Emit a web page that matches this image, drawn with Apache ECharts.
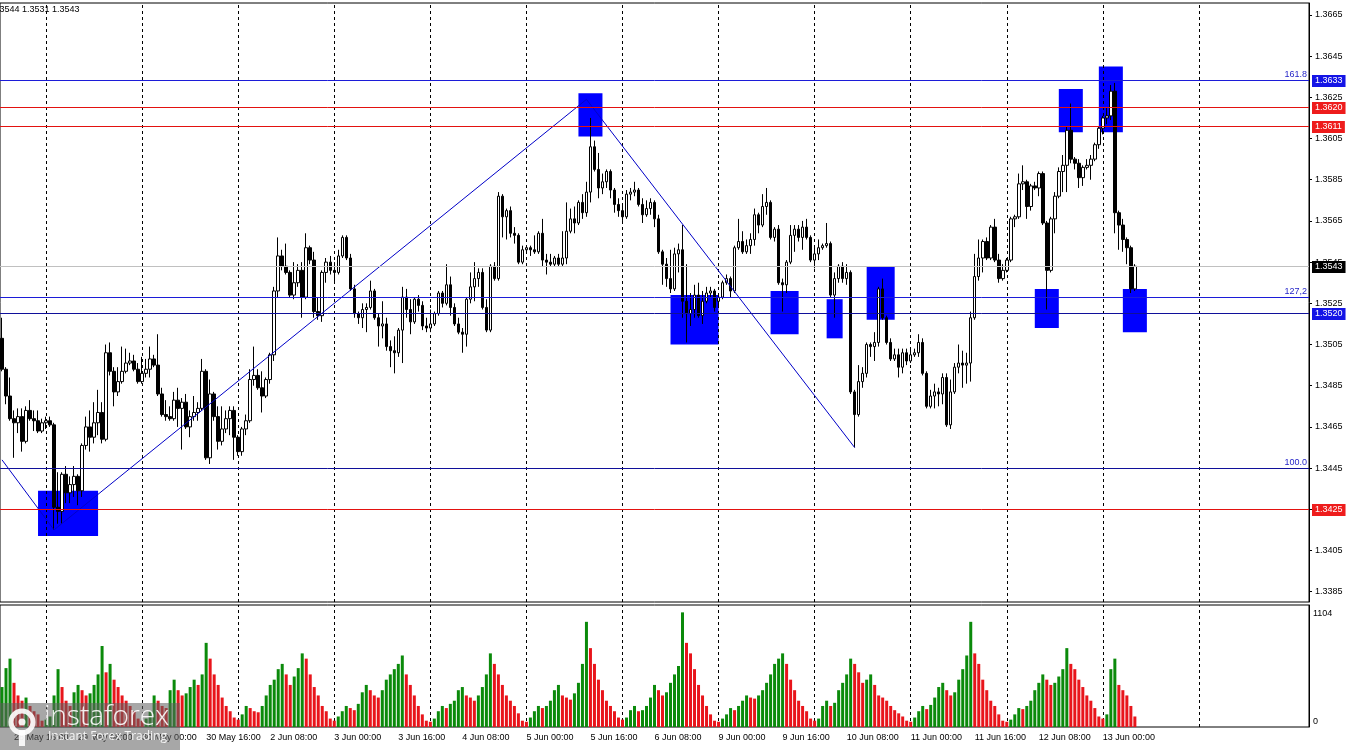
<!DOCTYPE html>
<html><head><meta charset="utf-8">
<script src="https://cdn.jsdelivr.net/npm/echarts/dist/echarts.min.js"></script>
<style>html,body{margin:0;padding:0;background:#fff}#c{width:1350px;height:750px}</style>
</head><body><div id="c"></div>
<script>
// ---- DATA ----
// hourly bars: [open, close, low, high]
const ohlc = [
[1.3508,1.3493,1.3492,1.3518],[1.3493,1.3480,1.3476,1.3494],[1.3480,1.3469,1.3468,1.3489],[1.3469,1.3467,1.3450,1.3473],
[1.3467,1.3470,1.3462,1.3474],[1.3470,1.3458,1.3453,1.3474],[1.3458,1.3473,1.3457,1.3475],[1.3473,1.3469,1.3468,1.3478],
[1.3469,1.3468,1.3463,1.3473],[1.3468,1.3463,1.3462,1.3473],[1.3463,1.3467,1.3462,1.3469],[1.3467,1.3468,1.3464,1.3470],
[1.3468,1.3466,1.3465,1.3470],[1.3466,1.3426,1.3415,1.3467],[1.3426,1.3424,1.3418,1.3443],[1.3424,1.3442,1.3418,1.3443],
[1.3442,1.3433,1.3428,1.3446],[1.3433,1.3437,1.3428,1.3441],[1.3437,1.3441,1.3431,1.3446],[1.3441,1.3434,1.3427,1.3442],
[1.3434,1.3456,1.3431,1.3457],[1.3456,1.3465,1.3454,1.3470],[1.3465,1.3460,1.3453,1.3473],[1.3460,1.3467,1.3457,1.3477],
[1.3467,1.3472,1.3461,1.3483],[1.3472,1.3459,1.3457,1.3477],[1.3459,1.3501,1.3458,1.3505],[1.3501,1.3492,1.3490,1.3506],
[1.3492,1.3482,1.3475,1.3494],[1.3482,1.3487,1.3480,1.3494],[1.3487,1.3492,1.3486,1.3504],[1.3492,1.3496,1.3491,1.3503],
[1.3496,1.3497,1.3495,1.3501],[1.3497,1.3493,1.3492,1.3500],[1.3493,1.3487,1.3486,1.3496],[1.3487,1.3491,1.3486,1.3499],
[1.3491,1.3493,1.3489,1.3498],[1.3493,1.3498,1.3489,1.3504],[1.3498,1.3495,1.3494,1.3500],[1.3495,1.3481,1.3480,1.3510],
[1.3481,1.3471,1.3470,1.3484],[1.3471,1.3470,1.3468,1.3478],[1.3470,1.3469,1.3468,1.3475],[1.3469,1.3478,1.3468,1.3482],
[1.3478,1.3474,1.3465,1.3484],[1.3474,1.3477,1.3454,1.3479],[1.3477,1.3465,1.3464,1.3481],[1.3465,1.3470,1.3460,1.3473],
[1.3470,1.3472,1.3468,1.3480],[1.3472,1.3474,1.3468,1.3477],[1.3474,1.3492,1.3473,1.3498],[1.3492,1.3450,1.3449,1.3493],
[1.3450,1.3481,1.3447,1.3488],[1.3481,1.3470,1.3468,1.3482],[1.3470,1.3458,1.3454,1.3475],[1.3458,1.3464,1.3456,1.3475],
[1.3464,1.3469,1.3462,1.3473],[1.3469,1.3473,1.3461,1.3475],[1.3473,1.3460,1.3449,1.3475],[1.3460,1.3453,1.3451,1.3461],
[1.3453,1.3464,1.3451,1.3465],[1.3464,1.3468,1.3461,1.3471],[1.3468,1.3488,1.3467,1.3493],[1.3488,1.3490,1.3485,1.3504],
[1.3490,1.3484,1.3483,1.3493],[1.3484,1.3480,1.3472,1.3492],[1.3480,1.3488,1.3479,1.3489],[1.3488,1.3500,1.3486,1.3501],
[1.3500,1.3531,1.3497,1.3533],[1.3531,1.3548,1.3528,1.3557],[1.3548,1.3543,1.3541,1.3551],[1.3543,1.3540,1.3539,1.3554],
[1.3540,1.3529,1.3528,1.3541],[1.3529,1.3535,1.3527,1.3545],[1.3535,1.3541,1.3533,1.3544],[1.3541,1.3528,1.3518,1.3545],
[1.3528,1.3552,1.3527,1.3559],[1.3552,1.3546,1.3544,1.3553],[1.3546,1.3521,1.3518,1.3550],[1.3521,1.3519,1.3517,1.3528],
[1.3519,1.3540,1.3516,1.3541],[1.3540,1.3545,1.3535,1.3547],[1.3545,1.3541,1.3539,1.3548],[1.3541,1.3540,1.3535,1.3545],
[1.3540,1.3548,1.3539,1.3551],[1.3548,1.3557,1.3547,1.3558],[1.3557,1.3547,1.3546,1.3558],[1.3547,1.3532,1.3531,1.3549],
[1.3532,1.3520,1.3518,1.3534],[1.3520,1.3518,1.3515,1.3521],[1.3518,1.3522,1.3513,1.3525],[1.3522,1.3523,1.3511,1.3525],
[1.3523,1.3531,1.3522,1.3536],[1.3531,1.3518,1.3517,1.3532],[1.3518,1.3514,1.3504,1.3520],[1.3514,1.3515,1.3508,1.3526],
[1.3515,1.3504,1.3502,1.3518],[1.3504,1.3502,1.3494,1.3507],[1.3502,1.3501,1.3491,1.3509],[1.3501,1.3512,1.3499,1.3513],
[1.3512,1.3528,1.3496,1.3533],[1.3528,1.3522,1.3518,1.3532],[1.3522,1.3516,1.3510,1.3527],[1.3516,1.3527,1.3515,1.3528],
[1.3527,1.3524,1.3521,1.3529],[1.3524,1.3514,1.3512,1.3526],[1.3514,1.3513,1.3511,1.3518],[1.3513,1.3515,1.3511,1.3522],
[1.3515,1.3520,1.3514,1.3521],[1.3520,1.3530,1.3519,1.3531],[1.3530,1.3525,1.3523,1.3531],[1.3525,1.3534,1.3524,1.3544],
[1.3534,1.3523,1.3519,1.3538],[1.3523,1.3515,1.3514,1.3525],[1.3515,1.3511,1.3510,1.3518],[1.3511,1.3510,1.3501,1.3513],
[1.3510,1.3527,1.3504,1.3528],[1.3527,1.3533,1.3525,1.3540],[1.3533,1.3537,1.3526,1.3545],[1.3537,1.3540,1.3533,1.3542],
[1.3540,1.3523,1.3522,1.3542],[1.3523,1.3512,1.3511,1.3527],[1.3512,1.3543,1.3511,1.3544],[1.3543,1.3537,1.3536,1.3545],
[1.3537,1.3577,1.3536,1.3579],[1.3577,1.3567,1.3557,1.3578],[1.3567,1.3570,1.3556,1.3571],[1.3570,1.3559,1.3557,1.3572],
[1.3559,1.3558,1.3554,1.3562],[1.3558,1.3545,1.3544,1.3559],[1.3545,1.3551,1.3544,1.3553],[1.3551,1.3552,1.3549,1.3553],
[1.3552,1.3551,1.3548,1.3553],[1.3551,1.3550,1.3549,1.3558],[1.3550,1.3559,1.3549,1.3560],[1.3559,1.3546,1.3543,1.3566],
[1.3546,1.3545,1.3539,1.3549],[1.3545,1.3544,1.3543,1.3549],[1.3544,1.3547,1.3543,1.3548],[1.3547,1.3544,1.3543,1.3549],
[1.3544,1.3547,1.3543,1.3560],[1.3547,1.3560,1.3544,1.3574],[1.3560,1.3566,1.3559,1.3571],[1.3566,1.3564,1.3559,1.3572],
[1.3564,1.3574,1.3563,1.3575],[1.3574,1.3569,1.3566,1.3578],[1.3569,1.3579,1.3567,1.3584],[1.3579,1.3601,1.3574,1.3615],
[1.3601,1.3590,1.3589,1.3604],[1.3590,1.3581,1.3576,1.3598],[1.3581,1.3584,1.3578,1.3588],[1.3584,1.3589,1.3581,1.3590],
[1.3589,1.3580,1.3576,1.3590],[1.3580,1.3573,1.3569,1.3581],[1.3573,1.3570,1.3567,1.3576],[1.3570,1.3567,1.3565,1.3573],
[1.3567,1.3578,1.3566,1.3580],[1.3578,1.3579,1.3575,1.3581],[1.3579,1.3580,1.3577,1.3584],[1.3580,1.3573,1.3572,1.3581],
[1.3573,1.3568,1.3564,1.3576],[1.3568,1.3571,1.3567,1.3575],[1.3571,1.3574,1.3568,1.3576],[1.3574,1.3566,1.3562,1.3575],
[1.3566,1.3550,1.3549,1.3568],[1.3550,1.3544,1.3534,1.3551],[1.3544,1.3537,1.3533,1.3547],[1.3537,1.3532,1.3530,1.3551],
[1.3532,1.3549,1.3531,1.3552],[1.3549,1.3551,1.3540,1.3554],[1.3551,1.3526,1.3518,1.3563],[1.3526,1.3520,1.3506,1.3544],
[1.3520,1.3522,1.3514,1.3530],[1.3522,1.3529,1.3518,1.3534],[1.3529,1.3519,1.3518,1.3535],[1.3519,1.3526,1.3515,1.3531],
[1.3526,1.3530,1.3525,1.3533],[1.3530,1.3531,1.3528,1.3533],[1.3531,1.3523,1.3521,1.3532],[1.3526,1.3528,1.3524,1.3529],
[1.3528,1.3535,1.3527,1.3536],[1.3535,1.3537,1.3534,1.3539],[1.3537,1.3531,1.3528,1.3538],[1.3531,1.3552,1.3530,1.3553],
[1.3552,1.3555,1.3551,1.3566],[1.3555,1.3550,1.3549,1.3560],[1.3550,1.3553,1.3549,1.3556],[1.3553,1.3556,1.3549,1.3559],
[1.3556,1.3568,1.3553,1.3571],[1.3568,1.3563,1.3559,1.3569],[1.3563,1.3572,1.3562,1.3578],[1.3572,1.3574,1.3568,1.3581],
[1.3574,1.3557,1.3556,1.3575],[1.3557,1.3561,1.3555,1.3562],[1.3561,1.3535,1.3534,1.3563],[1.3535,1.3534,1.3521,1.3537],
[1.3534,1.3545,1.3530,1.3546],[1.3545,1.3558,1.3544,1.3563],[1.3558,1.3561,1.3550,1.3563],[1.3561,1.3557,1.3555,1.3563],
[1.3557,1.3562,1.3551,1.3565],[1.3562,1.3557,1.3556,1.3566],[1.3557,1.3546,1.3545,1.3558],[1.3546,1.3549,1.3542,1.3552],
[1.3549,1.3552,1.3546,1.3556],[1.3552,1.3553,1.3551,1.3554],[1.3553,1.3554,1.3552,1.3564],[1.3554,1.3529,1.3528,1.3555],
[1.3529,1.3537,1.3518,1.3540],[1.3537,1.3543,1.3535,1.3544],[1.3543,1.3537,1.3535,1.3545],[1.3537,1.3540,1.3534,1.3544],
[1.3540,1.3482,1.3481,1.3541],[1.3482,1.3471,1.3455,1.3483],[1.3471,1.3487,1.3470,1.3495],[1.3487,1.3491,1.3484,1.3494],
[1.3491,1.3505,1.3489,1.3506],[1.3505,1.3504,1.3499,1.3506],[1.3504,1.3506,1.3497,1.3511],[1.3506,1.3532,1.3504,1.3533],
[1.3532,1.3518,1.3517,1.3537],[1.3518,1.3506,1.3505,1.3519],[1.3506,1.3498,1.3497,1.3508],[1.3498,1.3500,1.3497,1.3503],
[1.3500,1.3494,1.3489,1.3503],[1.3494,1.3501,1.3491,1.3503],[1.3501,1.3497,1.3495,1.3503],[1.3497,1.3500,1.3496,1.3503],
[1.3500,1.3501,1.3499,1.3503],[1.3501,1.3506,1.3499,1.3510],[1.3506,1.3491,1.3490,1.3508],[1.3491,1.3475,1.3474,1.3492],
[1.3475,1.3480,1.3474,1.3483],[1.3480,1.3482,1.3474,1.3486],[1.3482,1.3481,1.3475,1.3484],[1.3481,1.3489,1.3476,1.3491],
[1.3489,1.3466,1.3465,1.3491],[1.3466,1.3482,1.3464,1.3488],[1.3482,1.3494,1.3481,1.3496],[1.3494,1.3496,1.3491,1.3505],
[1.3496,1.3495,1.3484,1.3502],[1.3495,1.3496,1.3486,1.3501],[1.3496,1.3518,1.3487,1.3521],[1.3518,1.3538,1.3517,1.3549],
[1.3538,1.3547,1.3536,1.3556],[1.3547,1.3555,1.3540,1.3556],[1.3555,1.3547,1.3546,1.3557],[1.3547,1.3562,1.3546,1.3563],
[1.3562,1.3546,1.3545,1.3566],[1.3546,1.3537,1.3535,1.3549],[1.3537,1.3541,1.3536,1.3544],[1.3541,1.3546,1.3540,1.3547],
[1.3546,1.3566,1.3545,1.3567],[1.3566,1.3567,1.3562,1.3568],[1.3567,1.3583,1.3566,1.3588],[1.3583,1.3584,1.3580,1.3592],
[1.3584,1.3572,1.3566,1.3585],[1.3572,1.3582,1.3570,1.3583],[1.3582,1.3581,1.3580,1.3584],[1.3581,1.3588,1.3577,1.3589],
[1.3588,1.3564,1.3563,1.3589],[1.3564,1.3541,1.3522,1.3565],[1.3541,1.3566,1.3540,1.3567],[1.3566,1.3577,1.3559,1.3579],
[1.3577,1.3589,1.3576,1.3591],[1.3589,1.3592,1.3579,1.3597],[1.3592,1.3609,1.3579,1.3611],[1.3609,1.3595,1.3593,1.3622],
[1.3595,1.3593,1.3590,1.3596],[1.3593,1.3586,1.3581,1.3595],[1.3586,1.3591,1.3582,1.3592],[1.3591,1.3592,1.3590,1.3595],
[1.3592,1.3595,1.3585,1.3597],[1.3595,1.3602,1.3594,1.3603],[1.3602,1.3610,1.3600,1.3611],[1.3610,1.3615,1.3607,1.3616],
[1.3615,1.3616,1.3612,1.3620],[1.3616,1.3628,1.3614,1.3631],[1.3628,1.3569,1.3559,1.3632],[1.3569,1.3563,1.3551,1.3570],
[1.3563,1.3556,1.3550,1.3566],[1.3556,1.3552,1.3544,1.3557],[1.3552,1.3532,1.3530,1.3553],[1.3532,1.3543,1.3531,1.3544]
];
// tick volumes per bar
const volumes = [
380,560,650,420,300,250,280,200,150,120,60,
70,100,300,550,380,250,200,330,400,350,300,320,400,500,770,520,600,450,380,300,250,200,150,80,
60,80,150,300,250,200,180,350,450,350,300,320,380,450,400,500,800,650,500,400,280,200,150,90,
70,120,200,180,150,140,200,300,400,450,550,600,500,400,480,560,700,650,500,380,300,200,150,80,
60,100,150,200,180,160,220,330,400,350,300,280,350,450,500,550,600,680,500,400,300,200,120,60,
50,80,150,200,180,220,250,350,380,300,280,250,300,380,500,700,600,500,400,300,250,200,130,60,
50,90,150,200,180,200,250,350,400,300,280,260,320,420,600,1000,750,600,450,350,250,200,150,90,
70,90,160,200,150,160,200,280,400,350,300,330,420,500,580,1090,800,700,550,400,300,200,120,60,
50,80,120,180,160,200,250,300,280,270,300,350,420,500,600,650,700,600,450,350,250,200,150,80,
60,80,200,250,200,230,350,420,500,650,600,520,420,450,500,400,300,280,250,200,160,130,100,60,
50,90,150,200,170,210,280,380,420,350,300,330,450,550,680,1000,700,600,450,350,250,200,120,60,
50,70,120,180,170,200,250,350,420,500,450,400,420,480,550,750,600,550,450,380,300,250,180,100,
80,120,550,650,400,350,300,200,100
];
// trading sessions: [day, first hour, last hour]
const sessionDays = [['28 May',13,23],['29 May',0,23],['30 May',0,23],['2 Jun',0,23],['3 Jun',0,23],['4 Jun',0,23],
  ['5 Jun',0,23],['6 Jun',0,23],['9 Jun',0,23],['10 Jun',0,23],['11 Jun',0,23],['12 Jun',0,23],['13 Jun',0,23],['14 Jun',0,23],['15 Jun',0,3]];
const timeTickLabels = ['28 May 16:00','29 May 08:00','30 May 00:00','30 May 16:00','2 Jun 08:00','3 Jun 00:00','3 Jun 16:00',
  '4 Jun 08:00','5 Jun 00:00','5 Jun 16:00','6 Jun 08:00','9 Jun 00:00','9 Jun 16:00','10 Jun 08:00','11 Jun 00:00',
  '11 Jun 16:00','12 Jun 08:00','13 Jun 00:00'];
const priceTicks = [1.3385,1.3405,1.3425,1.3445,1.3465,1.3485,1.3505,1.3525,1.3545,1.3565,1.3585,1.3605,1.3625,1.3645,1.3665];
const volumeTicks = [0,1104];
// horizontal levels
const levelPrices = [1.3633,1.3620,1.3611,1.3543,1.3528,1.3520,1.3445,1.3425];
const levelKinds  = ['blue','red','red','gray','blue','navy','navy','red'];
const levelFibTags = ['161.8','','','','127,2','','100.0',''];
const levelHasBox = [true,true,true,true,false,true,false,true];
// zigzag pivots [bar index, price]
const zigzag = [[0,1.3449],[13,1.3415],[146,1.3624],[213,1.3455]];
// marked zones [from bar, to bar, top price, bottom price]
const zones = [[9,24,1.3434,1.3412],[144,150,1.3627,1.3606],[167,179,1.3529,1.3505],[192,199,1.3531,1.3510],
  [206,210,1.3527,1.3508],[216,223,1.3543,1.3517],[258,264,1.3532,1.3513],[264,270,1.3629,1.3608],
  [274,280,1.3640,1.3608],[280,286,1.3532,1.3511]];
const headerText = '1.3544 1.3531 1.3543';

// ---- BUILD ----
const categories = [];
sessionDays.forEach(([d,a,b]) => { for (let h=a; h<=b; h++) categories.push(d+' '+String(h).padStart(2,'0')+':00'); });
const dayStarts = categories.map((c,i)=> c.endsWith(' 00:00') ? i : -1).filter(i => i>=0 && i<=300);
const FONT = 'Liberation Sans';
const GREEN = '#0b8a0b', RED = '#e8151b';
const volData = volumes.map((v,i)=>({value:v, itemStyle:{color:(i===0 || v>volumes[i-1]) ? GREEN : RED}}));

const KIND_STYLE = {
  blue: {line:'#1c1cd8', box:'#1414e6'},
  navy: {line:'#10109a', box:'#1414e6'},
  red:  {line:'#e3120f', box:'#ee1c1c'},
  gray: {line:'#c0c0c0', box:'#000000'}
};
const snap = v => Math.round(v - 0.5) + 0.5;

const levelsSeries = {
  type:'custom', name:'levels', xAxisIndex:0, yAxisIndex:0, z:6, silent:true, clip:false,
  data: levelPrices.map((p,i)=>[i,p]),
  encode:{x:0, y:1},
  renderItem:(params, api) => {
    const i = api.value(0), p = api.value(1);
    const cs = params.coordSys;
    const st = KIND_STYLE[levelKinds[i]];
    const y = snap(api.coord([0, p])[1]);
    const right = cs.x + cs.width;
    const children = [{type:'line', shape:{x1:cs.x, y1:y, x2:right, y2:y}, style:{stroke:st.line, lineWidth:1}}];
    if (levelFibTags[i]) children.push({type:'text', x:right-2, y:y-1,
      style:{text:levelFibTags[i], fill:'#2626c8', fontSize:9, fontFamily:FONT, align:'right', verticalAlign:'bottom'}});
    if (levelHasBox[i]) children.push({type:'text', x:right+3, y:y+0.5,
      style:{text:p.toFixed(4), fill:'#ffffff', backgroundColor:st.box, padding:[1,3,1,3], fontSize:9, lineHeight:10,
        fontFamily:FONT, align:'left', verticalAlign:'middle'}});
    return {type:'group', children};
  }
};

const dashed = {silent:true, symbol:['none','none'], label:{show:false},
  lineStyle:{color:'#000', type:[3,3], width:1}, data: dayStarts.map(i=>({xAxis:i}))};

const WM = 'rgba(255,255,255,0.9)';
const chart = echarts.init(document.getElementById('c'), null, {renderer:'canvas', width:1350, height:750});
chart.setOption({
  animation:false,
  backgroundColor:'#ffffff',
  grid:[
    {left:-1, top:3, width:1310, height:599, show:true, borderColor:'#000', borderWidth:1},
    {left:-1, top:605, width:1310, height:122, show:true, borderColor:'#000', borderWidth:1}
  ],
  xAxis:[
    {type:'category', gridIndex:0, data:categories, boundaryGap:true, axisLine:{show:false}, axisTick:{show:false}, axisLabel:{show:false}, splitLine:{show:false}},
    {type:'category', gridIndex:1, data:categories, boundaryGap:true, axisLine:{show:false}, axisTick:{show:false},
      axisLabel:{show:true, interval:(idx,val)=> timeTickLabels.includes(val), align:'left', fontSize:9, fontFamily:FONT, color:'#000', margin:6},
      splitLine:{show:false}}
  ],
  yAxis:[
    {type:'value', gridIndex:0, position:'right', min:1.3380, max:1.36708, scale:true,
      axisLine:{show:true, lineStyle:{color:'#000'}},
      axisTick:{show:true, length:3, customValues:priceTicks, lineStyle:{color:'#000'}},
      axisLabel:{show:true, customValues:priceTicks, formatter:v=>v.toFixed(4), fontSize:9, fontFamily:FONT, color:'#000', margin:6},
      splitLine:{show:false}},
    {type:'value', gridIndex:1, position:'right', min:0, max:1160,
      axisLine:{show:true, lineStyle:{color:'#000'}},
      axisTick:{show:false},
      axisLabel:{show:true, customValues:volumeTicks, formatter:v=> v>0 ? '{a|'+v+'}' : '{b|0}', fontSize:9, fontFamily:FONT, color:'#000', margin:4,
        rich:{a:{padding:[6,0,0,0], fontSize:9, fontFamily:FONT}, b:{padding:[0,0,10,0], fontSize:9, fontFamily:FONT}}},
      splitLine:{show:false}}
  ],
  graphic:[
    {type:'text', left:-8, top:5, z:100, style:{text:headerText, fontSize:9, fontFamily:FONT, fill:'#000'}},
    {type:'rect', left:0, top:703, z:100, shape:{width:180,height:47}, style:{fill:'rgba(95,95,95,0.55)'}},
    {type:'circle', z:101, shape:{cx:22,cy:722,r:11}, style:{fill:'none', stroke:WM, lineWidth:5}},
    {type:'circle', z:101, shape:{cx:22,cy:722,r:3.5}, style:{fill:WM}},
    {type:'rect', z:101, shape:{x:19,y:730,width:6,height:16}, style:{fill:WM}},
    {type:'text', z:101, x:44, y:703, style:{text:'instaforex', fontSize:28, fontWeight:300, fontFamily:'Open Sans', fill:WM}},
    {type:'text', z:101, x:48, y:731, style:{text:'Instant Forex Trading', fontSize:12, fontFamily:'Open Sans', fill:WM}}
  ],
  series:[
    {type:'candlestick', name:'price', xAxisIndex:0, yAxisIndex:0, data:ohlc, barWidth:3, z:3,
      itemStyle:{color:'#ffffff', color0:'#000000', borderColor:'#000000', borderColor0:'#000000', borderColorDoji:'#000000', borderWidth:1},
      markArea:{silent:true, z:1, itemStyle:{color:'#0000ff', borderWidth:0},
        data: zones.map(z=>[{xAxis:z[0], yAxis:z[2]},{xAxis:z[1], yAxis:z[3]}])},
      markLine:Object.assign({z:2}, dashed)
    },
    {type:'line', name:'zigzag', xAxisIndex:0, yAxisIndex:0, data:zigzag, symbol:'none', z:4,
      lineStyle:{color:'#0000c8', width:1}},
    levelsSeries,
    {type:'bar', name:'volume', xAxisIndex:1, yAxisIndex:1, data:volData, barWidth:3, z:3,
      markLine:Object.assign({z:1}, dashed)
    }
  ]
});
</script>
</body></html>
